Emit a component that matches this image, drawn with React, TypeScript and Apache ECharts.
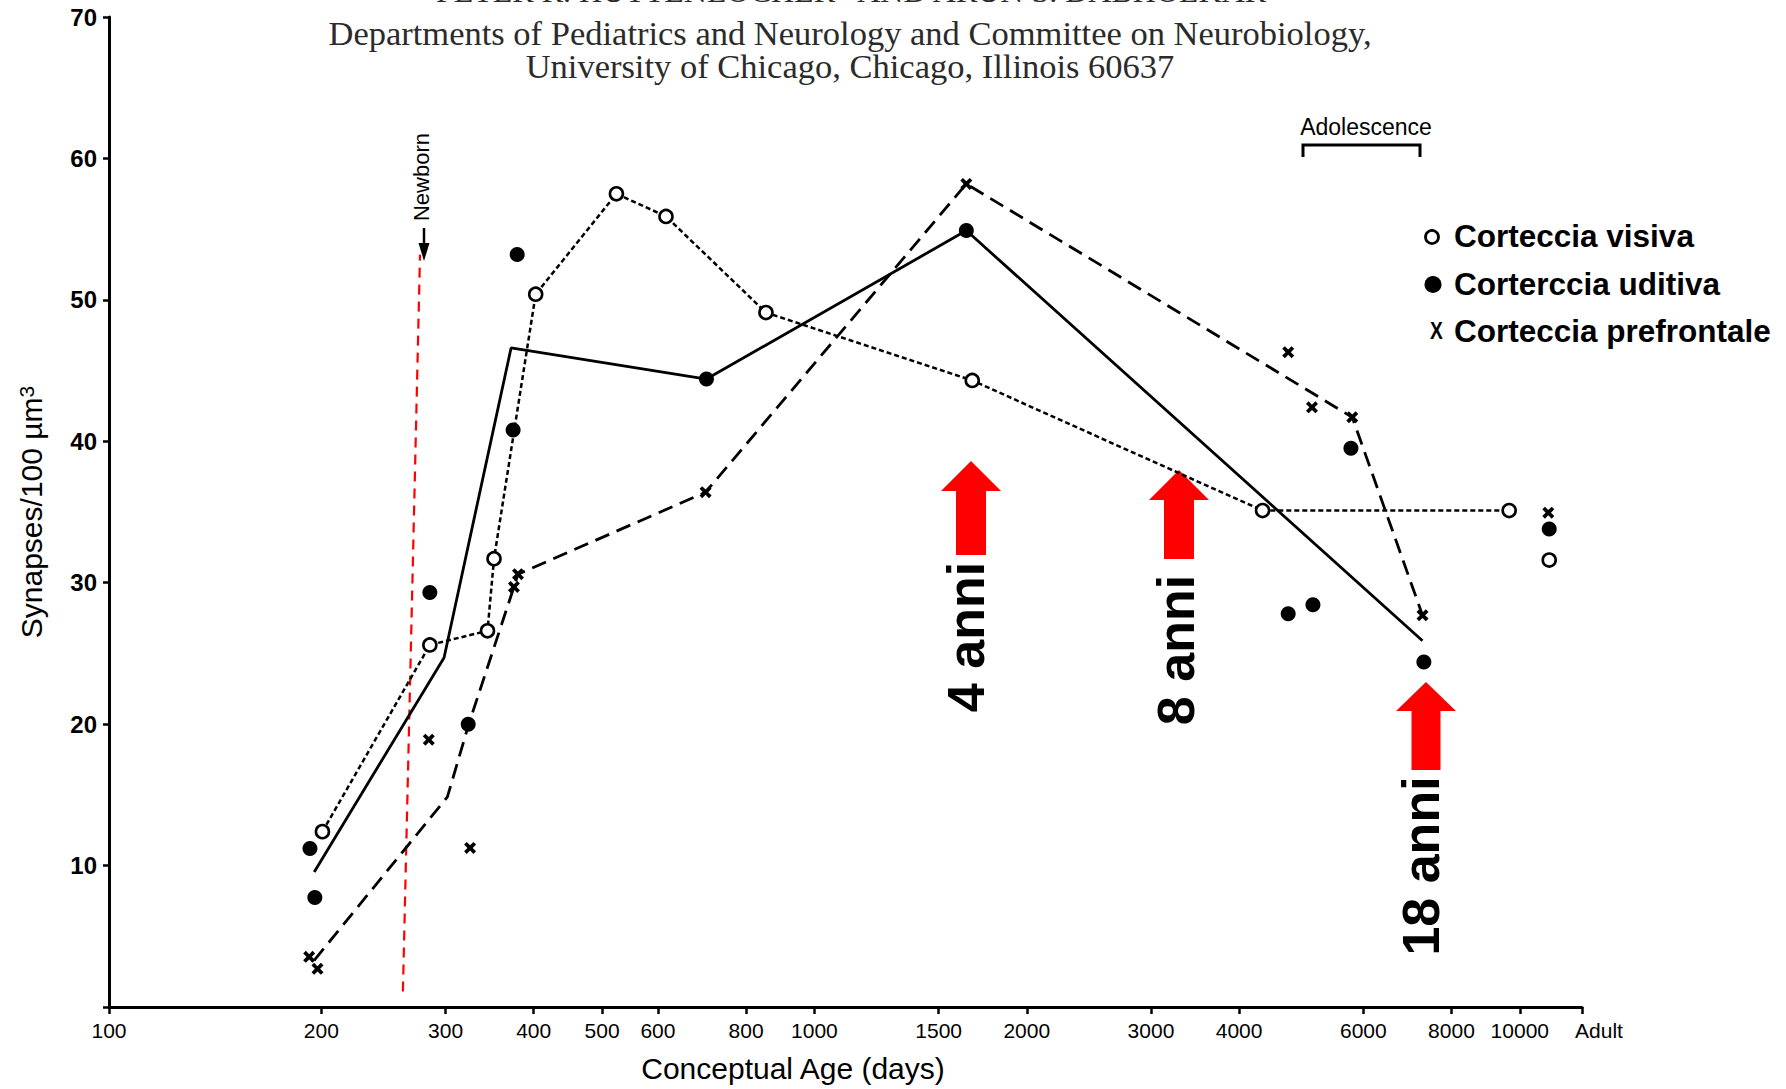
import React, { useEffect, useRef } from "react";
import * as echarts from "echarts";

// ---------- data (conceptual age in days, synapses / 100 µm3) ----------
const ADULT = 12250;
const xTickValues = [100, 200, 300, 400, 500, 600, 800, 1000, 1500, 2000, 3000, 4000, 6000, 8000, 10000, ADULT];

const visualDays = [200.7, 285, 344, 351.4, 402.6, 524, 616, 853.7, 1674, 4318, 9658];
const visualVals = [12.4, 25.6, 26.6, 31.7, 50.4, 57.5, 55.9, 49.1, 44.3, 35.1, 35.1];
const visualAdultDays = [11007];
const visualAdultVals = [31.6];

const auditoryDays = [192.7, 195.8, 285, 323, 374, 379, 703, 1642, 4695, 5090, 5762, 7311, 11007];
const auditoryVals = [11.2, 7.75, 29.3, 20.0, 40.8, 53.2, 44.4, 54.9, 27.8, 28.45, 39.5, 24.4, 33.8];
const auditoryLineDays = [195.4, 298.5, 371.5, 703, 1642, 7278];
const auditoryLineVals = [9.55, 24.7, 46.6, 44.4, 54.9, 25.9];

const prefrontalDays = [192.2, 197.5, 284, 325, 375, 380, 701, 1642, 4695, 5074, 5787, 7278, 10974];
const prefrontalVals = [3.55, 2.7, 18.9, 11.25, 29.7, 30.6, 36.4, 58.2, 46.3, 42.4, 41.7, 27.7, 34.95];
const prefrontalLineDays = [195.4, 301.8, 323.6, 375, 380, 701, 1642, 5787, 7278];
const prefrontalLineVals = [3.3, 14.85, 20.0, 29.7, 30.6, 36.4, 58.2, 41.7, 27.7];

const newbornDays = [261, 276];
const newbornVals = [1.1, 53.2];

const legendLabels = ["Corteccia visiva", "Corterccia uditiva", "Corteccia prefrontale"];
const arrowLabels = ["4 anni", "8 anni", "18 anni"];
const headerLines = [
  "PETER R. HUTTENLOCHER* AND ARUN S. DABHOLKAR",
  "Departments of Pediatrics and Neurology and Committee on Neurobiology,",
  "University of Chicago, Chicago, Illinois 60637",
];

// ---------- styling ----------
const SANS = "'Liberation Sans', Arial, Helvetica, sans-serif";
const SERIF = "'Liberation Serif', 'Times New Roman', serif";
const X_SYMBOL = "path://M0,2.2L2.2,0L5,2.8L7.8,0L10,2.2L7.2,5L10,7.8L7.8,10L5,7.2L2.2,10L0,7.8L2.8,5Z";

const zip = (xs: number[], ys: number[]) => xs.map((x, i) => [x, ys[i]]);

function redArrow(cx: number, tipY: number, baseY: number, bottomY: number, headHalf: number, shaftHalf: number) {
  return {
    type: "polygon",
    z: 1,
    silent: true,
    shape: {
      points: [
        [cx, tipY],
        [cx + headHalf, baseY],
        [cx + shaftHalf, baseY],
        [cx + shaftHalf, bottomY],
        [cx - shaftHalf, bottomY],
        [cx - shaftHalf, baseY],
        [cx - headHalf, baseY],
      ],
    },
    style: { fill: "#ff0000" },
  };
}

function rotText(text: string, x: number, y: number, size: number, weight: string) {
  return {
    type: "text",
    x,
    y,
    rotation: Math.PI / 2,
    z: 5,
    silent: true,
    style: {
      text,
      fill: "#000",
      fontSize: size,
      fontWeight: weight,
      fontFamily: SANS,
      align: "center",
      verticalAlign: "middle",
    },
  };
}

function plainText(text: string, x: number, y: number, size: number, weight: string, family: string, color: string, align: string) {
  return {
    type: "text",
    x,
    y,
    z: 5,
    silent: true,
    style: { text, fill: color, fontSize: size, fontWeight: weight, fontFamily: family, align, verticalAlign: "middle" },
  };
}

export default function App() {
  const ref = useRef<HTMLDivElement>(null);

  useEffect(() => {
    if (!ref.current) return;
    const chart = echarts.init(ref.current, undefined, { renderer: "svg" });

    const graphic: any[] = [
      // header (scanned paper fragment, cut at the top edge)
      plainText(headerLines[0], 851, -9, 32, "normal", SERIF, "#2b2b2b", "center"),
      plainText(headerLines[1], 850, 33, 34.5, "normal", SERIF, "#2b2b2b", "center"),
      plainText(headerLines[2], 850, 66, 34.5, "normal", SERIF, "#2b2b2b", "center"),
      // Newborn label + arrow
      rotText("Newborn", 421, 177, 22, "normal"),
      { type: "line", silent: true, shape: { x1: 424, y1: 228, x2: 424, y2: 248 }, style: { stroke: "#000", lineWidth: 2.5 } },
      { type: "polygon", silent: true, shape: { points: [[418.5, 243], [429.5, 243], [424, 261]] }, style: { fill: "#000" } },
      // Adolescence bracket
      plainText("Adolescence", 1366, 127, 23, "normal", SANS, "#000", "center"),
      {
        type: "polyline",
        silent: true,
        shape: { points: [[1303, 157], [1303, 145], [1420, 145], [1420, 157]] },
        style: { stroke: "#000", lineWidth: 3, fill: null },
      },
      // red arrows + labels
      redArrow(971, 461, 491, 555, 30, 15),
      redArrow(1179, 470, 500, 559, 30, 15),
      redArrow(1426, 682, 711, 770, 30, 14.5),
      rotText(arrowLabels[0], 966, 637, 52, "bold"),
      rotText(arrowLabels[1], 1176, 650, 52, "bold"),
      rotText(arrowLabels[2], 1421, 866, 52, "bold"),
      // legend
      { type: "circle", silent: true, shape: { cx: 1432, cy: 237, r: 6.5 }, style: { fill: "#fff", stroke: "#000", lineWidth: 2.8 } },
      { type: "circle", silent: true, shape: { cx: 1433, cy: 284.5, r: 8.5 }, style: { fill: "#000" } },
      {
        type: "text",
        x: 1436.5,
        y: 331,
        scaleX: 0.8,
        silent: true,
        style: { text: "X", fill: "#000", fontSize: 24, fontWeight: "bold", fontFamily: SANS, align: "center", verticalAlign: "middle" },
      },
      plainText(legendLabels[0], 1454, 236, 31.5, "bold", SANS, "#000", "left"),
      plainText(legendLabels[1], 1454, 284, 31.5, "bold", SANS, "#000", "left"),
      plainText(legendLabels[2], 1454, 331, 31.5, "bold", SANS, "#000", "left"),
    ];

    const option: any = {
      animation: false,
      backgroundColor: "#fff",
      textStyle: { fontFamily: SANS },
      grid: { left: 109, right: 204, top: 17, bottom: 82, containLabel: false },
      xAxis: {
        type: "log",
        logBase: 10,
        min: 100,
        max: ADULT,
        axisLine: { show: true, onZero: false, lineStyle: { color: "#000", width: 3 } },
        axisTick: { show: true, length: 7, customValues: xTickValues, lineStyle: { color: "#000", width: 2.5 } },
        axisLabel: {
          customValues: xTickValues,
          margin: 13,
          color: "#000",
          fontSize: 21,
          fontFamily: SANS,
          formatter: (v: number) => (Math.round(v) === ADULT ? "{adult|Adult}" : String(Math.round(v))),
          rich: { adult: { padding: [0, 0, 0, 34], fontSize: 21, color: "#000", fontFamily: SANS } },
        },
        splitLine: { show: false },
        minorTick: { show: false },
        name: "Conceptual Age (days)",
        nameLocation: "middle",
        nameGap: 46,
        nameTextStyle: { fontSize: 30, color: "#000", fontFamily: SANS, padding: [0, 105, 0, 0] },
      },
      yAxis: {
        type: "value",
        min: 0,
        max: 70,
        interval: 10,
        axisLine: { show: true, lineStyle: { color: "#000", width: 3 } },
        axisTick: { show: true, length: 6, lineStyle: { color: "#000", width: 2.5 } },
        axisLabel: {
          show: true,
          margin: 12,
          fontSize: 24,
          fontWeight: "bold",
          color: "#000",
          fontFamily: SANS,
          formatter: (v: number) => (v === 0 ? "" : String(v)),
        },
        splitLine: { show: false },
        name: "Synapses/100 µm{sup|3}",
        nameLocation: "middle",
        nameGap: 63,
        nameTextStyle: {
          fontSize: 30,
          color: "#000",
          fontFamily: SANS,
          rich: { sup: { fontSize: 21, verticalAlign: "top", color: "#000", fontFamily: SANS } },
        },
      },
      graphic,
      series: [
        {
          name: "Newborn",
          type: "line",
          data: zip(newbornDays, newbornVals),
          symbol: "none",
          silent: true,
          z: 1,
          lineStyle: { color: "#ff0000", width: 2.2, type: [10, 7] },
        },
        {
          name: "Corterccia uditiva (curva)",
          type: "line",
          data: zip(auditoryLineDays, auditoryLineVals),
          symbol: "none",
          silent: true,
          lineStyle: { color: "#000", width: 2.8, type: "solid" },
        },
        {
          name: "Corteccia prefrontale (curva)",
          type: "line",
          data: zip(prefrontalLineDays, prefrontalLineVals),
          symbol: "none",
          silent: true,
          lineStyle: { color: "#000", width: 2.8, type: [15, 8] },
        },
        {
          name: legendLabels[0],
          type: "line",
          data: zip(visualDays, visualVals),
          symbol: "circle",
          symbolSize: 13,
          showAllSymbol: true,
          silent: true,
          z: 4,
          itemStyle: { color: "#fff", borderColor: "#000", borderWidth: 2.6, opacity: 1 },
          lineStyle: { color: "#000", width: 2.5, type: [5, 3] },
        },
        {
          name: legendLabels[0] + " (adulto)",
          type: "scatter",
          data: zip(visualAdultDays, visualAdultVals),
          symbol: "circle",
          symbolSize: 13,
          silent: true,
          z: 4,
          itemStyle: { color: "#fff", borderColor: "#000", borderWidth: 2.6, opacity: 1 },
        },
        {
          name: legendLabels[1],
          type: "scatter",
          data: zip(auditoryDays, auditoryVals),
          symbol: "circle",
          symbolSize: 15,
          silent: true,
          z: 4,
          itemStyle: { color: "#000", opacity: 1 },
        },
        {
          name: legendLabels[2],
          type: "scatter",
          data: zip(prefrontalDays, prefrontalVals),
          symbol: X_SYMBOL,
          symbolSize: 12,
          silent: true,
          z: 4,
          itemStyle: { color: "#000", opacity: 1 },
        },
      ],
    };

    chart.setOption(option);
    return () => chart.dispose();
  }, []);

  return (
    <div
      ref={ref}
      style={{ position: "absolute", left: 0, top: 0, width: 1786, height: 1089, background: "#fff" }}
    />
  );
}
